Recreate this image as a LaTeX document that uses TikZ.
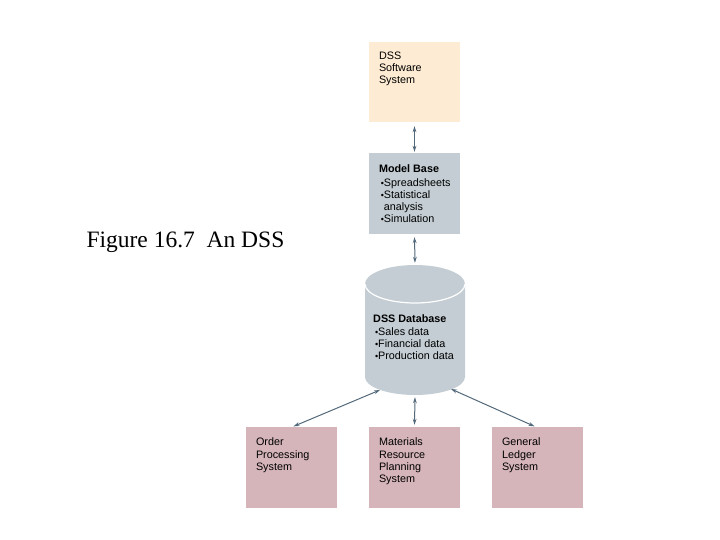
\documentclass[tikz,border=0pt]{standalone}
\usepackage{fontspec}
\setmainfont{Liberation Sans}
\newfontfamily\capfont{Liberation Serif}
\usetikzlibrary{shapes.geometric, arrows.meta, positioning}

\definecolor{softfill}{HTML}{FDEBD3}
\definecolor{basefill}{HTML}{C3CDD3}
\definecolor{sysfill}{HTML}{D5B4BA}
\definecolor{linkcol}{HTML}{53697A}

\newcommand{\bul}{{\small\textbullet}}

\tikzset{
  box/.style={rectangle, minimum width=91pt, minimum height=81pt, inner sep=0pt},
  boxtext/.style={anchor=north west, align=left, inner sep=0pt,
    font=\fontsize{10.8}{12.2}\selectfont},
  link/.style={draw=linkcol, line width=1pt,
    {Stealth[length=6pt,width=3.8pt]}-{Stealth[length=6pt,width=3.8pt]}}
}

\begin{document}
\begin{tikzpicture}[x=1pt,y=-1pt]
\useasboundingbox (0,0) rectangle (720,540);

% caption
\node[anchor=west, font=\capfont\fontsize{23.5}{26}\selectfont] (cap) at (83,242) {Figure 16.7\ \ An DSS};

% top boxes
\node[box, fill=softfill, minimum height=80pt] (soft) at (414.5,82)
  {};
\node[boxtext] at ([xshift=10pt,yshift=-10pt]soft.north west) {DSS\\Software\\System};
\node[box, fill=basefill] (model) at (414.5,193.5) {};
\node[boxtext] at ([xshift=10pt,yshift=-12pt]model.north west)
  {\textbf{Model Base}\\[1pt]
   \,\bul Spreadsheets\\
   \,\bul Statistical\\
   \,\phantom{\bul}analysis\\
   \,\bul Simulation};

% database cylinder
\fill[basefill] (365,284) -- (365,377)
  arc[start angle=180, end angle=0, x radius=50, y radius=18]
  -- (465,284) arc[start angle=0, end angle=-180, x radius=50, y radius=19] -- cycle;
\draw[white, line width=1.2pt] (365,284)
  arc[start angle=180, end angle=0, x radius=50, y radius=19];
\node[minimum width=100pt, minimum height=130pt, inner sep=0pt] (db) at (415,330) {};
\coordinate (dbl) at (380,390);
\coordinate (dbr) at (451,389);
\node[boxtext] at (373,314)
  {\textbf{DSS Database}\\[1pt]
   \,\bul Sales data\\
   \,\bul Financial data\\
   \,\bul Production data};

% source systems
\node[box, fill=sysfill] (order) at (291.5,467.5) {};
\node[boxtext] at ([xshift=10pt,yshift=-11pt]order.north west) {Order\\Processing\\System};
\node[box, fill=sysfill] (mrp) at (414.5,467.5) {};
\node[boxtext] at ([xshift=10pt,yshift=-11pt]mrp.north west) {Materials\\Resource\\Planning\\System};
\node[box, fill=sysfill] (gl) at (537.5,467.5) {};
\node[boxtext] at ([xshift=10pt,yshift=-11pt]gl.north west) {General\\Ledger\\System};

% links
\draw[link, shorten <=4pt, shorten >=1pt] (soft.south) -- (model.north);
\draw[link, shorten <=3pt, shorten >=2pt] (model.south) -- (db.north);
\draw[link, shorten <=2pt, shorten >=2pt] (db.south) -- (mrp.north);
\draw[link, shorten >=1pt] (dbl) -- ([xshift=1pt]order.north);
\draw[link, shorten >=1pt] (dbr) -- ([xshift=-2pt]gl.north);
\end{tikzpicture}
\end{document}
